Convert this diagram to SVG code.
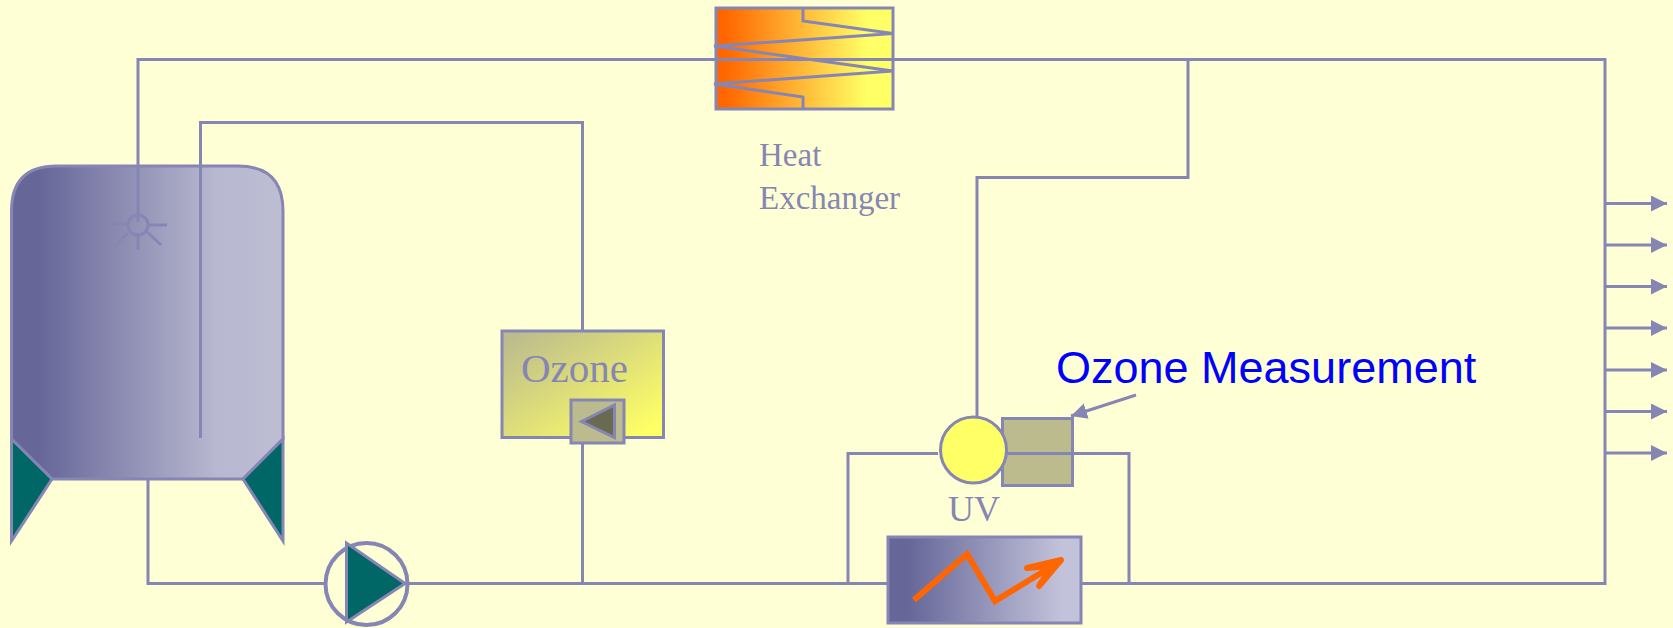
<svg xmlns="http://www.w3.org/2000/svg" width="1673" height="628" viewBox="0 0 1673 628">
<defs>
<linearGradient id="gHeat" x1="0" y1="0" x2="1" y2="0"><stop offset="0.05" stop-color="#ff6600"/><stop offset="0.85" stop-color="#ffff66"/></linearGradient>
<linearGradient id="gTank" x1="0" y1="0" x2="1" y2="0"><stop offset="0.1" stop-color="#666699"/><stop offset="0.75" stop-color="#b7b7cf"/><stop offset="1" stop-color="#bdbdd4"/></linearGradient>
<linearGradient id="gHeater" x1="0" y1="0" x2="1" y2="0"><stop offset="0.1" stop-color="#666699"/><stop offset="0.9" stop-color="#c2c2da"/></linearGradient>
<linearGradient id="gOzone" x1="0" y1="0" x2="1" y2="1"><stop offset="0.05" stop-color="#bbbb8e"/><stop offset="0.92" stop-color="#ffff66"/></linearGradient>
<marker id="head" markerUnits="userSpaceOnUse" markerWidth="17" markerHeight="17" refX="16" refY="8" orient="auto"><path d="M0 0L16 8L0 16Z" fill="#8686b4"/></marker>
</defs>
<style>
.ln{fill:none;stroke:#8686b4;stroke-width:3}
.sh{stroke:#8686b4;stroke-width:3}
.lb{fill:#8686b4;font-family:"Liberation Serif","Times New Roman",serif}
</style>
<rect width="1673" height="628" fill="#ffffd5"/>
<g id="tank">
<path class="sh" fill="url(#gTank)" d="M11.5 211Q11.5 166 56.5 166H238Q283 166 283 211V439L243 479H52L11.5 439Z"/>
<path class="sh" fill="#006666" d="M11.5 439L52 479L11.5 541Z"/>
<path class="sh" fill="#006666" d="M283 439L243 479L283 541Z"/>
</g>
<g id="heat-exchanger">
<rect class="sh" fill="url(#gHeat)" x="716" y="8" width="177" height="101"/>
<path class="ln" d="M803 8V21L893 33.5L714 46L893 71L714 84L803 97V109"/>
<text class="lb" x="759" y="166" font-size="33">Heat</text>
<text class="lb" x="759" y="209" font-size="33">Exchanger</text>
</g>
<g id="ozone">
<rect class="sh" fill="url(#gOzone)" x="502" y="331" width="161.500" height="106.500"/>
<text class="lb" x="521" y="382" font-size="41">Ozone</text>
<rect class="sh" fill="#bbbb8e" x="571" y="400" width="53" height="43"/>
<path class="sh" fill="#6a6a50" d="M581.500 421.500L614.500 405V437.500Z"/>
</g>
<g id="pump">
<circle cx="366.500" cy="584" r="41" fill="none" stroke="#8686b4" stroke-width="4"/>
<path class="sh" fill="#006666" d="M346.500 543V622L405 583.500Z"/>
</g>
<g id="uv">
<rect class="sh" fill="#bbbb8e" x="1002.500" y="418.500" width="70" height="67"/>
<circle class="sh" fill="#ffff66" cx="973.500" cy="450" r="33"/>
<text class="lb" x="948" y="521" font-size="36">UV</text>
</g>
<g id="heater">
<rect class="sh" fill="url(#gHeater)" x="888" y="537" width="193" height="86"/>
<path d="M914 600L967 554L995 601L1054 565" fill="none" stroke="#ff6600" stroke-width="6"/>
<path d="M1027 568L1061 560L1039 586L1052 566Z" fill="#ff6600" stroke="#ff6600" stroke-width="6" stroke-linejoin="round"/>
</g>
<g id="sparger" fill="none" stroke="#8686b4" stroke-width="3">
<circle cx="138" cy="225" r="10"/>
<path d="M110 224H128M148 225H167M138 235V250M128 233L115 246M147 232L161 245"/>
</g>
<g id="connectors">
<path class="ln" d="M138 222V59.500H1605V583.500H1081"/>
<path class="ln" d="M200.500 438V122.500H582.500V331"/>
<path class="ln" d="M582.500 443V583.500"/>
<path class="ln" d="M148 479V583.500H324"/>
<path class="ln" d="M405 583.500H888"/>
<path class="ln" d="M1188 59.500V177.500H977V418"/>
<path class="ln" d="M848 583.500V453.500H938"/>
<path class="ln" d="M1006 453.500H1129V583.500"/>
<path class="ln" d="M1136 395L1071 416" marker-end="url(#head)"/>
<g>
<path class="ln" d="M1605 203.500H1667" marker-end="url(#head)"/>
<path class="ln" d="M1605 245H1667" marker-end="url(#head)"/>
<path class="ln" d="M1605 286.500H1667" marker-end="url(#head)"/>
<path class="ln" d="M1605 328H1667" marker-end="url(#head)"/>
<path class="ln" d="M1605 370H1667" marker-end="url(#head)"/>
<path class="ln" d="M1605 411.500H1667" marker-end="url(#head)"/>
<path class="ln" d="M1605 453H1667" marker-end="url(#head)"/>
</g>
</g>
<text id="ozone-measurement" x="1056" y="383" font-size="45" fill="#0000ff" font-family="'Liberation Sans',Arial,sans-serif">Ozone Measurement</text>
</svg>
